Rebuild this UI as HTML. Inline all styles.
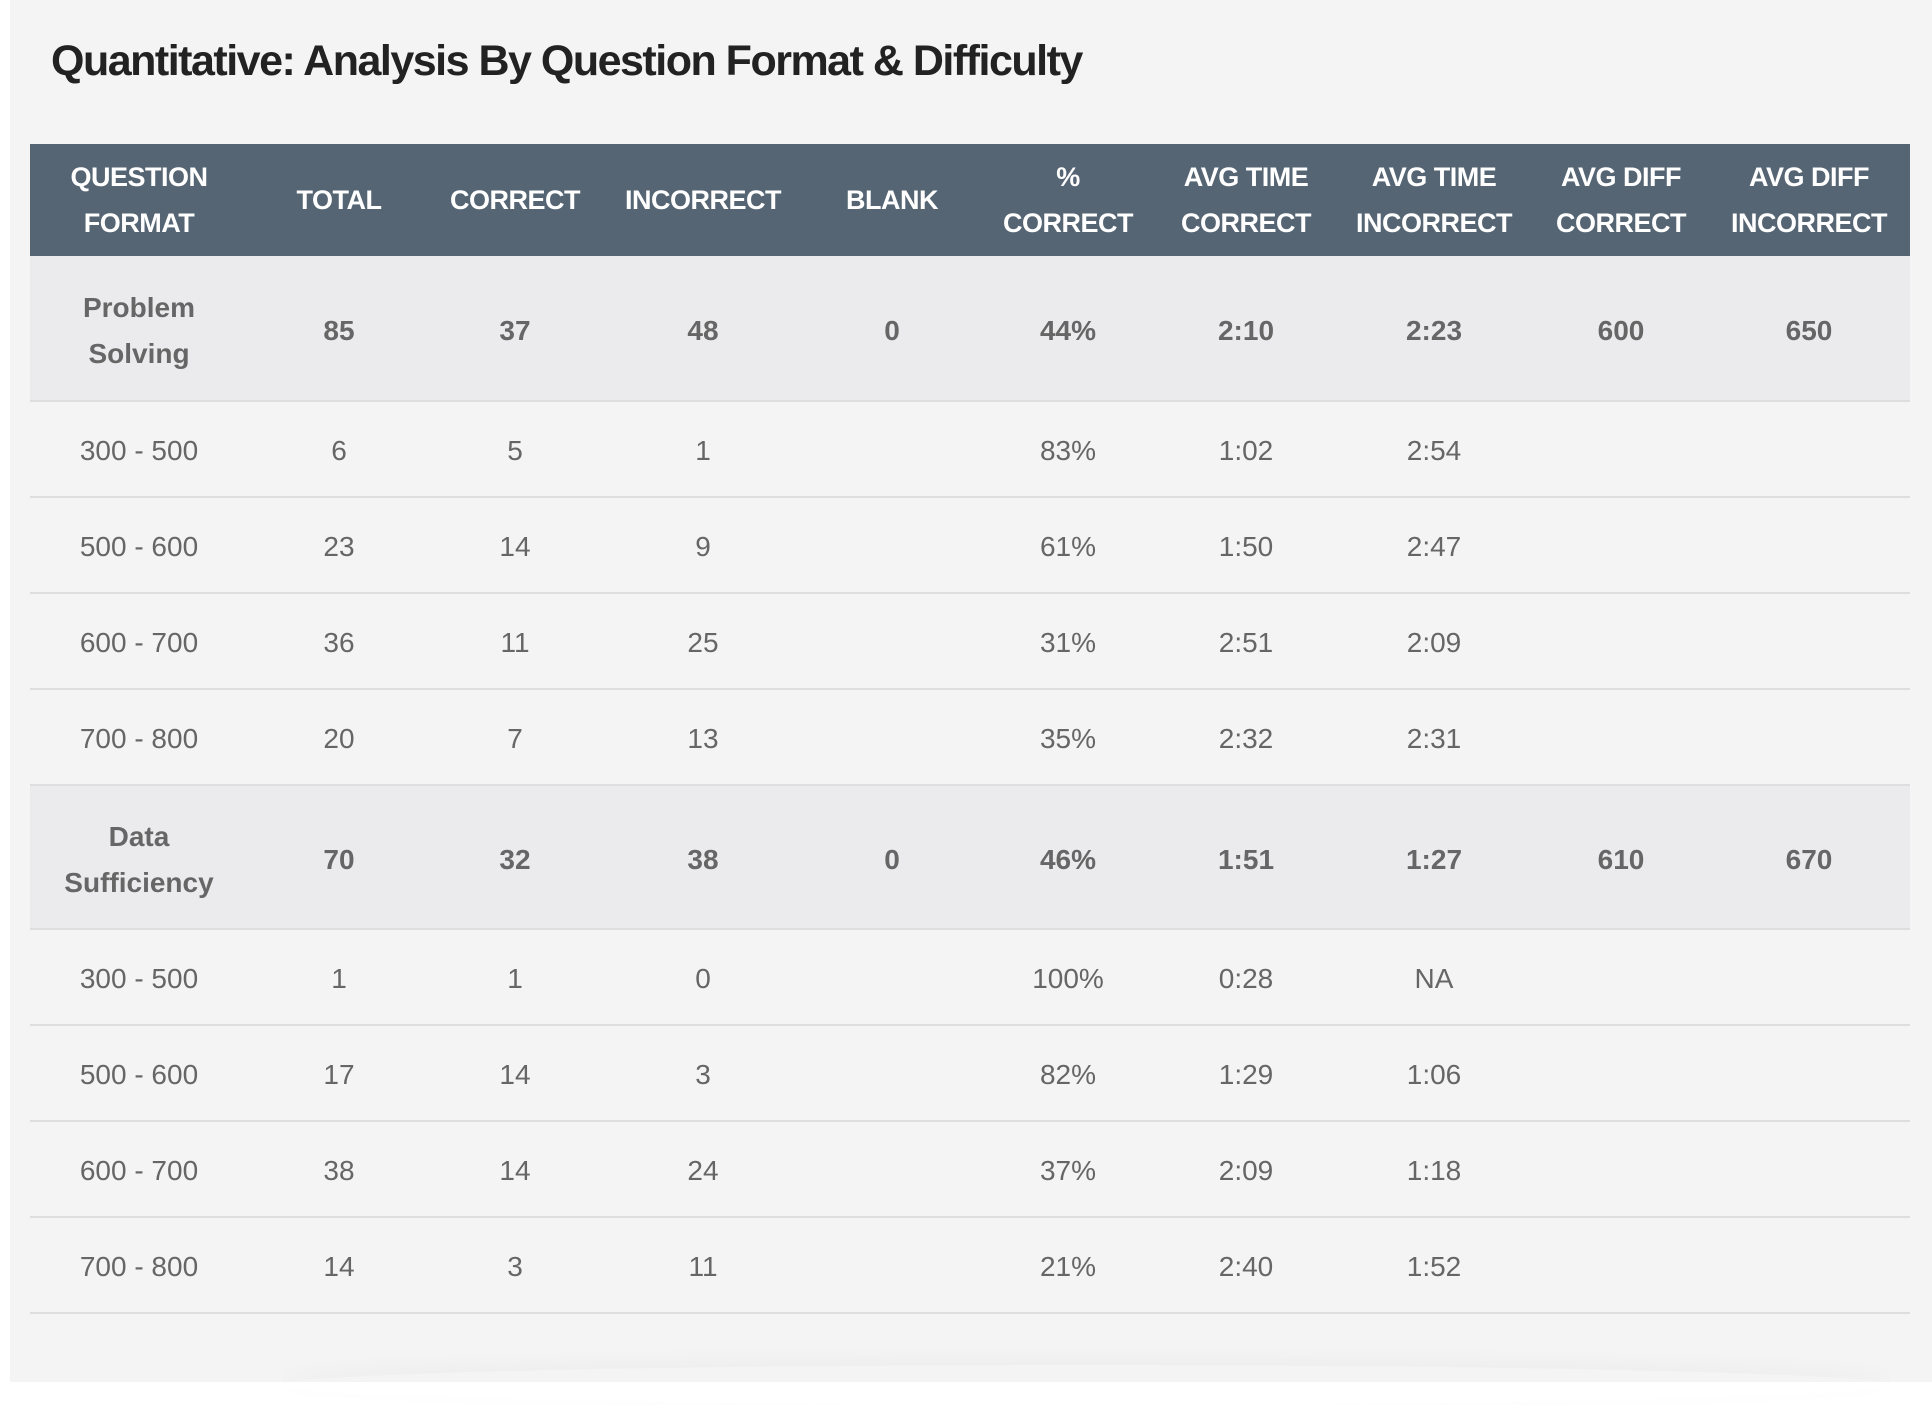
<!DOCTYPE html>
<html><head><meta charset="utf-8"><style>
html,body{margin:0;padding:0;}
body{width:1932px;height:1382px;background:#fff;position:relative;overflow:hidden;font-family:"Liberation Sans",sans-serif;}
.panel{position:absolute;left:10px;top:0;width:1922px;height:1382px;background:#f4f4f4;}
.shadow{position:absolute;left:280px;right:40px;top:1365px;height:40px;border-radius:50%;box-shadow:0 -6px 20px rgba(0,0,0,0.03);}
h1{position:absolute;left:51px;top:37px;margin:0;font-size:43px;font-weight:bold;color:#222;letter-spacing:-1.5px;white-space:nowrap;}
table{position:absolute;left:30px;top:144px;width:1880px;border-collapse:collapse;table-layout:fixed;}
th{background:#566573;color:#fff;font-size:27px;font-weight:bold;line-height:46px;height:112px;padding:0;text-align:center;letter-spacing:-0.5px;}
td{text-align:center;color:#666;font-size:28px;padding:0;border-bottom:2px solid #dedede;}
tr.g td{background:#ebebed;font-weight:bold;height:136px;padding-top:6px;line-height:46px;}
tr.g1 td{height:138px;}
tr.s td{height:91px;padding-top:3px;}
</style></head><body>
<div class="panel"></div>
<div class="shadow"></div>
<h1>Quantitative: Analysis By Question Format &amp; Difficulty</h1>
<table>
<colgroup><col style="width:218px"><col style="width:182px"><col style="width:170px"><col style="width:206px"><col style="width:172px"><col style="width:180px"><col style="width:176px"><col style="width:200px"><col style="width:174px"><col style="width:202px"></colgroup>
<tr><th>QUESTION<br>FORMAT</th><th>TOTAL</th><th>CORRECT</th><th>INCORRECT</th><th>BLANK</th><th>%<br>CORRECT</th><th>AVG TIME<br>CORRECT</th><th>AVG TIME<br>INCORRECT</th><th>AVG DIFF<br>CORRECT</th><th>AVG DIFF<br>INCORRECT</th></tr>
<tr class="g g1"><td>Problem<br>Solving</td><td>85</td><td>37</td><td>48</td><td>0</td><td>44%</td><td>2:10</td><td>2:23</td><td>600</td><td>650</td></tr>
<tr class="s"><td>300 - 500</td><td>6</td><td>5</td><td>1</td><td></td><td>83%</td><td>1:02</td><td>2:54</td><td></td><td></td></tr>
<tr class="s"><td>500 - 600</td><td>23</td><td>14</td><td>9</td><td></td><td>61%</td><td>1:50</td><td>2:47</td><td></td><td></td></tr>
<tr class="s"><td>600 - 700</td><td>36</td><td>11</td><td>25</td><td></td><td>31%</td><td>2:51</td><td>2:09</td><td></td><td></td></tr>
<tr class="s"><td>700 - 800</td><td>20</td><td>7</td><td>13</td><td></td><td>35%</td><td>2:32</td><td>2:31</td><td></td><td></td></tr>
<tr class="g"><td>Data<br>Sufficiency</td><td>70</td><td>32</td><td>38</td><td>0</td><td>46%</td><td>1:51</td><td>1:27</td><td>610</td><td>670</td></tr>
<tr class="s"><td>300 - 500</td><td>1</td><td>1</td><td>0</td><td></td><td>100%</td><td>0:28</td><td>NA</td><td></td><td></td></tr>
<tr class="s"><td>500 - 600</td><td>17</td><td>14</td><td>3</td><td></td><td>82%</td><td>1:29</td><td>1:06</td><td></td><td></td></tr>
<tr class="s"><td>600 - 700</td><td>38</td><td>14</td><td>24</td><td></td><td>37%</td><td>2:09</td><td>1:18</td><td></td><td></td></tr>
<tr class="s"><td>700 - 800</td><td>14</td><td>3</td><td>11</td><td></td><td>21%</td><td>2:40</td><td>1:52</td><td></td><td></td></tr>
</table>
</body></html>
